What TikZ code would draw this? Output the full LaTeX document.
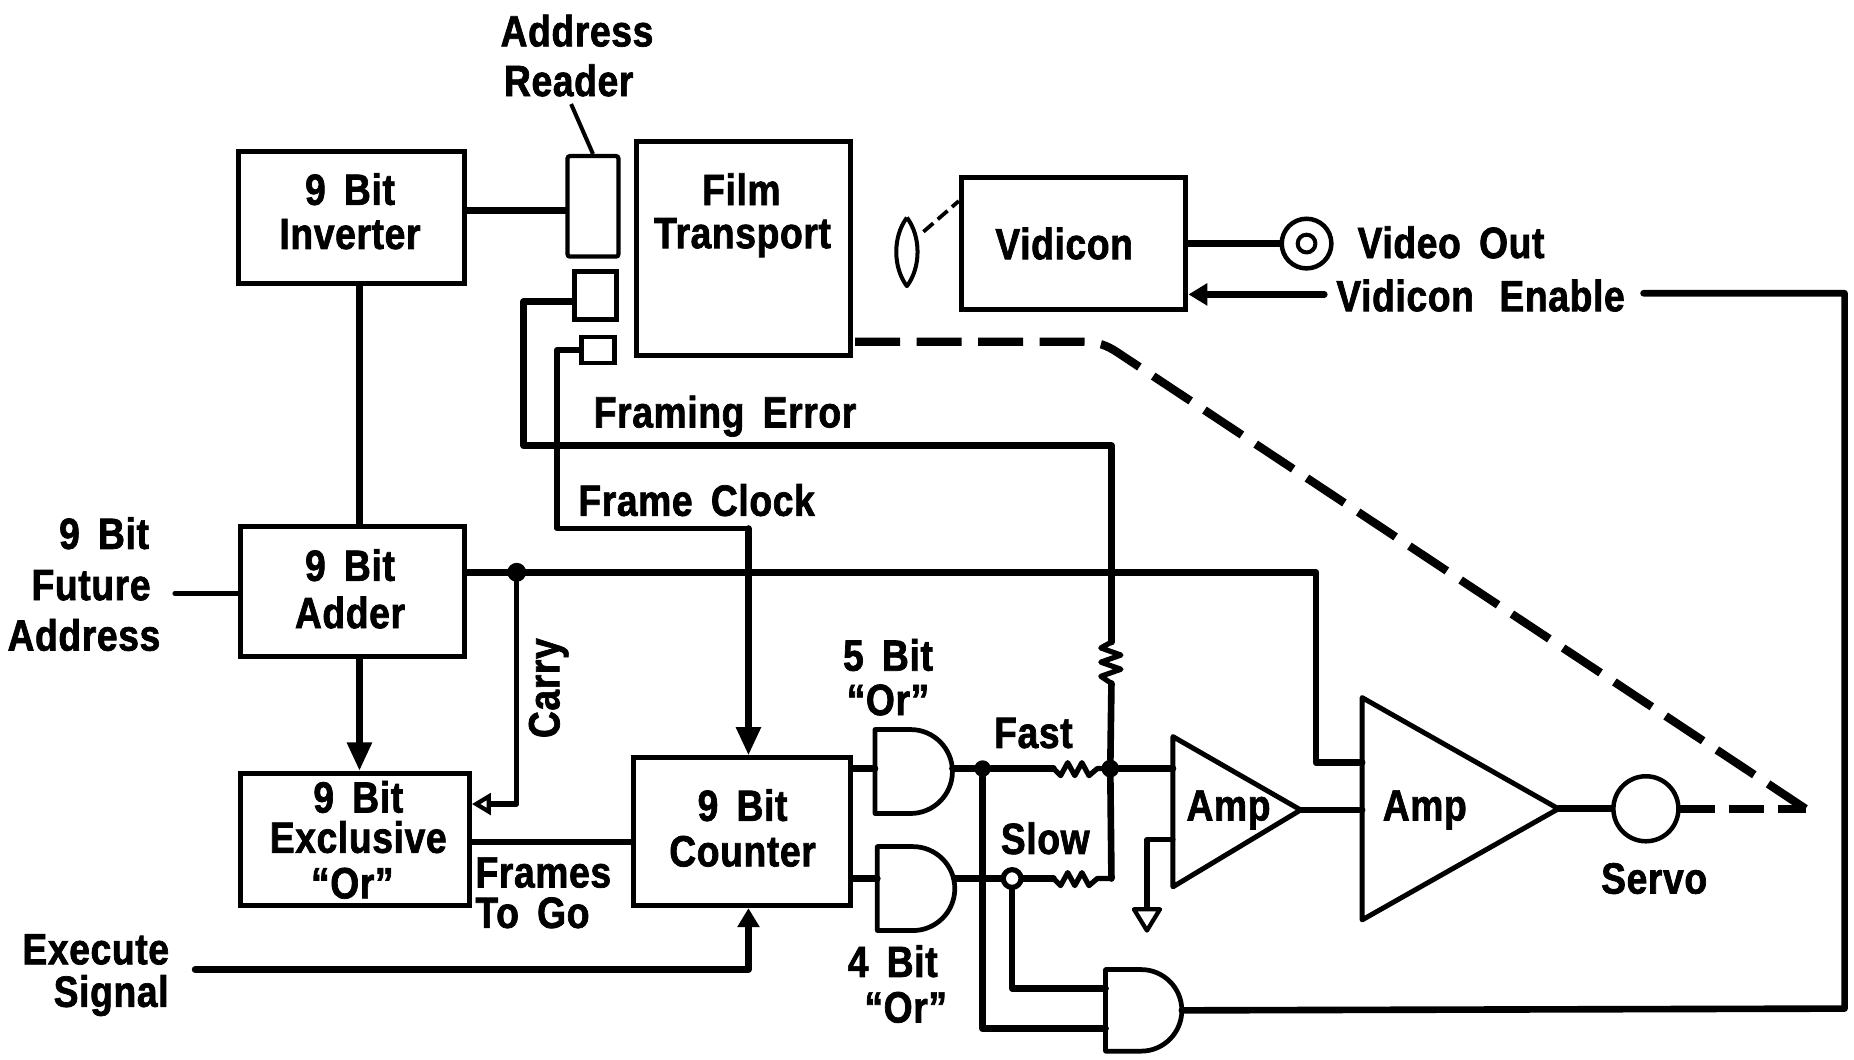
\documentclass[tikz,border=0pt]{standalone}
\usepackage{fontspec}
\setmainfont{Liberation Sans}[BoldFont={Liberation Sans Bold},BoldFeatures={FakeStretch=0.85,LetterSpace=1.5,FakeBold=1.6}]
\usetikzlibrary{arrows.meta,calc}
\tikzset{
 wire/.style={line width=5.6pt,line join=round,line cap=round},
 thin wire/.style={line width=4.4pt,line join=round,line cap=round},
 lab/.style={font=\fontsize{37}{40}\bfseries\selectfont,inner sep=0pt,align=center},
 arr/.style={-{Triangle[length=24pt,width=20pt]}},
 sarr/.style={-{Triangle[length=16pt,width=18pt]}},
 dashw/.style={line width=7pt,dash pattern=on 38pt off 14pt},
 jct/.style={circle,fill=black,minimum size=16pt,inner sep=0pt},
 ojct/.style={circle,draw,fill=white,line width=4.4pt,minimum size=15pt,inner sep=0pt},
 gateline/.style={draw,line width=4pt,line join=round},
}
\newcommand{\gatedraw}[4]{%
 \draw[gateline] (#2,#3) -- ({#2+30},#3)
  .. controls ({#2+30+0.5523*(#4-#3)/2},#3) and ({#2+30+(#4-#3)/2},{(#3+#4)/2-0.5523*(#4-#3)/2}) .. ({#2+30+(#4-#3)/2},{(#3+#4)/2})
  .. controls ({#2+30+(#4-#3)/2},{(#3+#4)/2+0.5523*(#4-#3)/2}) and ({#2+30+0.5523*(#4-#3)/2},#4) .. ({#2+30},#4)
  -- (#2,#4) -- cycle;
 \coordinate (#1) at ({#2+30+(#4-#3)/2},{(#3+#4)/2});}
\begin{document}
\begin{tikzpicture}[x=1pt,y=-1pt]
\useasboundingbox (0,0) rectangle (1568,896);
% boxes
\node[draw,line width=4.2pt,minimum width=191pt,minimum height=112pt,inner sep=0pt] (inv) at (297.5,184) {};
\node[draw,line width=3.6pt,minimum width=43pt,minimum height=85pt,inner sep=0pt,rounded corners=2pt] (reader) at (501.5,174.5) {};
\node[draw,line width=4.2pt,minimum width=35pt,minimum height=40pt,inner sep=0pt] (s1) at (503.5,250) {};
\node[draw,line width=4pt,minimum width=28pt,minimum height=22pt,inner sep=0pt] (s2) at (506,296) {};
\node[draw,line width=4.2pt,minimum width=181pt,minimum height=181pt,inner sep=0pt] (film) at (628.5,210.5) {};
\node[draw,line width=4.2pt,minimum width=190pt,minimum height=112pt,inner sep=0pt] (vid) at (908,206) {};
\node[draw,line width=4.2pt,minimum width=190pt,minimum height=110pt,inner sep=0pt] (add) at (298,500) {};
\node[draw,line width=4.2pt,minimum width=194pt,minimum height=112pt,inner sep=0pt] (xor) at (300,710) {};
\node[draw,line width=4.2pt,minimum width=183pt,minimum height=125pt,inner sep=0pt] (cnt) at (627.5,703.5) {};
% lens
\draw[line width=3.4pt,line join=round] (767,184) .. controls (755,200) and (755,226) .. (767,242) .. controls (779,226) and (779,200) .. (767,184);
\coordinate (lensr) at (781,196);
\draw[line width=3.2pt,dash pattern=on 11pt off 5pt] (lensr) -- (vid.west |- 0,170);
% video out
\node[circle,draw,line width=3.8pt,minimum size=42pt,inner sep=0pt] (vo) at (1105,206) {};
\node[circle,draw,line width=3.4pt,minimum size=15pt,inner sep=0pt] (voi) at (1105,206) {};
\draw[wire] (vid.east |- vo) -- (vo);
\coordinate (ven) at (1120,249);
\draw[wire,sarr] (ven) -- (vid.east |- ven);
% enable
\coordinate (e1) at (1390,248);
\coordinate (e2) at (1560,248);
\coordinate (e3) at (1560,853);
% amps
\draw[gateline,line width=4.2pt] (992,623) -- (1100,685) -- (992,750) -- cycle;
\coordinate (a1) at (992,650); \coordinate (a1g) at (992,710); \coordinate (a1o) at (1100,685);
\draw[gateline,line width=4.2pt] (1152,590) -- (1318,684) -- (1152,778) -- cycle;
\coordinate (a2t) at (1152,645); \coordinate (a2i) at (1152,685); \coordinate (a2o) at (1318,684);
\node[circle,draw,line width=3.8pt,minimum size=55pt,inner sep=0pt] (servo) at (1392,684) {};
% wires
\draw[wire] (inv.east |- 0,178) -- (reader.west |- 0,178);
\draw[line width=3.4pt] (483,88) -- (reader.north);
\draw[wire] (inv.south -| 304,0) -- (add.north -| 304,0);
\draw[wire,arr] (add.south -| 304,0) -- (xor.north -| 304,0);
\coordinate (fa) at (148,502);
\draw[thin wire] (fa) -- (add.west |- fa);
\coordinate (c1) at (1113,484);
\draw[wire] (add.east |- c1) -- (c1) -- (1113,645) -- (a2t);
\node[jct] (j1) at (437,484) {};
\draw[thin wire,-{Triangle[open,length=16pt,width=18pt,line width=3.6pt]}] (j1) -- (437,680) -- (xor.east |- 0,680);
\draw[wire] (xor.east |- 0,712) -- (cnt.west |- 0,712);
\coordinate (ex) at (165,820);
\draw[wire,sarr] (ex) -- (633,820) -- (cnt.south -| 633,0);
\draw[thin wire] (s2.west) -- (471,296) -- (471,447) -- (633,447);
\draw[wire,arr] (633,447) -- (cnt.north -| 633,0);
\draw[wire] (s1.west |- 0,255) -- (443,255) -- (443,377) -- (940,377) -- (940,543);
% resistors
\draw[thin wire,line cap=butt] (940,543) -- (931,548) -- (948,554) -- (931,560) -- (948,566) -- (931,572) -- (940,578);
\node[jct,minimum size=14pt] (j2) at (831,650) {};
\node[jct,minimum size=15pt] (j3) at (939,650) {};
\draw[wire] (940,578) -- (j3);
\draw[wire] (j2) -- (891,650);
\draw[thin wire] (891,650) -- (897,656) -- (903,645) -- (909,656) -- (915,645) -- (921,656) -- (928,650) -- (j3);
\draw[wire] (j3) -- (a1);
\draw[thin wire] (891,743) -- (897,749) -- (903,738) -- (909,749) -- (915,738) -- (921,749) -- (928,743) -- (940,743);
\draw[wire] (940,743) -- (j3);
\draw[wire] (j2) -- (831,870) -- (935,870);
\draw[wire] (856,743) -- (856,836) -- (935,836);
\draw[wire] (cnt.east |- 0,650) -- (740,650);
\draw[wire] (cnt.east |- 0,743) -- (742,743);
\draw[thin wire] (a1g) -- (970,710) -- (970,768);
\draw[line width=3.6pt,line join=round,fill=white] (959,769) -- (981,769) -- (970,787) -- cycle;
\draw[wire] (a1o) -- (a2i);
\draw[wire] (a2o) -- (servo);
% gates
\gatedraw{g1}{740}{617}{688}
\gatedraw{g2}{742}{716}{787}
\gatedraw{g3}{935}{820}{889}
\draw[wire] (g1 |- j2) -- (j2);
\draw[wire] (g2 |- 0,743) -- (891,743);
\node[ojct] (j4) at (856,743) {};
\draw[wire] (g3) -- (e3) -- (e2) -- (e1);
% dashed film link
\coordinate (tail) at (1527,684);
\draw[dashw,line join=round] (tail) -- (945,298) .. controls (936,292) and (928,289) .. (915,289) -- (film.east |- 0,289);
\draw[dashw,dash pattern=on 30pt off 12pt] (1420,684) -- (tail);
% labels
\node[lab] (t1) at (488,26) {Address};
\node[lab] (t2) at (481,68) {Reader};
\node[lab] at (296,160) {9\, Bit};
\node[lab] at (296,198) {Inverter};
\node[lab] at (627,160) {Film};
\node[lab] at (628,201) {Transport};
\node[lab] at (900,206) {Vidicon};
\node[lab,anchor=west] at (1148,205) {Video\, Out};
\node[lab,anchor=west] at (1130,250) {Vidicon\,\, Enable};
\node[lab,anchor=west] at (502,352) {Framing\, Error};
\node[lab,anchor=west] at (489,423) {Frame\, Clock};
\node[lab] at (88,451) {9\, Bit};
\node[lab] at (77,495) {Future};
\node[lab] at (71,537) {Address};
\node[lab] at (296,478) {9\, Bit};
\node[lab] at (296,518) {Adder};
\node[lab] at (303,674) {9\, Bit};
\node[lab] at (303,708) {Exclusive};
\node[lab] at (298,747) {``Or''};
\node[lab,anchor=west] at (402,738) {Frames};
\node[lab,anchor=west] at (402,772) {To\, Go};
\node[lab,rotate=90] at (464,582) {Carry};
\node[lab] at (628,681) {9\, Bit};
\node[lab] at (628,720) {Counter};
\node[lab] at (751,554) {5\, Bit};
\node[lab] at (751,592) {``Or''};
\node[lab] at (755,813) {4\, Bit};
\node[lab] at (766,852) {``Or''};
\node[lab] at (874,620) {Fast};
\node[lab] at (884,709) {Slow};
\node[lab] at (1039,685) {Amp};
\node[lab] at (1205,685) {Amp};
\node[lab] at (1399,743) {Servo};
\node[lab] at (81,803) {Execute};
\node[lab] at (94,842) {Signal};
\end{tikzpicture}
\end{document}
